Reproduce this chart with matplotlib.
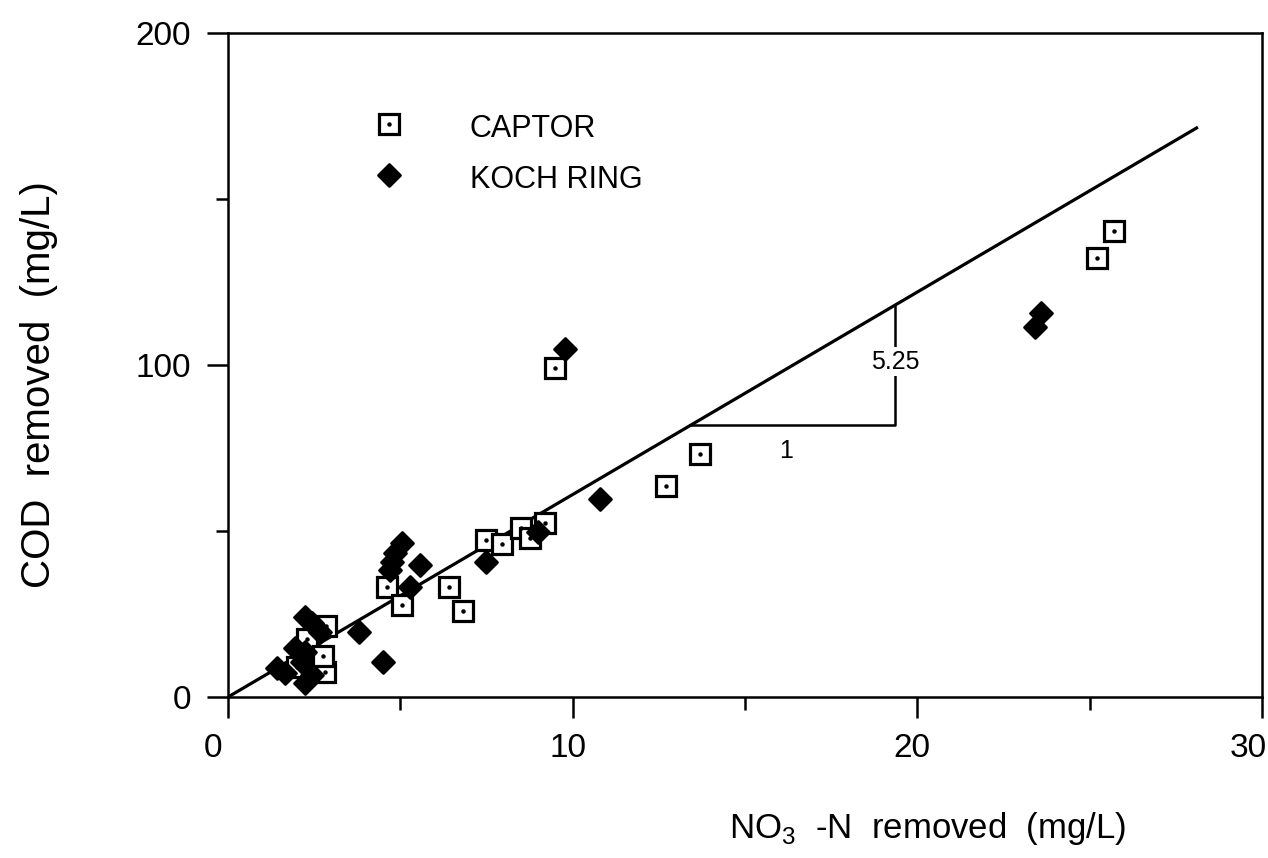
import numpy as np
import matplotlib
matplotlib.use("Agg")
import matplotlib.pyplot as plt
from matplotlib.ticker import MultipleLocator
from matplotlib.markers import MarkerStyle
from matplotlib.transforms import ScaledTranslation

plt.rcParams['font.family'] = ['Liberation Sans', 'DejaVu Sans']
plt.rcParams['mathtext.fontset'] = 'custom'
plt.rcParams['mathtext.rm'] = 'Liberation Sans'

# ---- data ----
captor_x = [25.7, 25.2, 9.49, 13.7, 12.7, 7.5, 7.94, 8.5, 8.76, 9.2,
            6.42, 6.81, 4.6, 5.04, 2.84, 2.81, 2.0, 2.3, 2.75]
captor_y = [140.4, 132.2, 99.1, 73.1, 63.6, 47.3, 46.0, 50.8, 48.0, 52.3,
            33.0, 25.9, 33.2, 27.7, 21.4, 7.5, 9.0, 17.5, 12.5]

koch_x = [23.6, 23.4, 9.78, 10.8, 9.0, 7.5, 5.04, 4.85, 4.75, 4.7,
          5.57, 5.28, 3.8, 4.49,
          2.23, 2.44, 2.67, 1.94, 2.23, 2.15, 1.42, 1.65, 2.23, 2.44]
koch_y = [115.7, 111.4, 104.8, 59.5, 49.7, 40.8, 46.3, 43.3, 40.8, 38.3,
          39.8, 33.2, 19.6, 10.6,
          24.0, 22.3, 19.6, 14.8, 13.6, 10.5, 8.7, 7.2, 4.2, 6.6]

# regression line as drawn and slope triangle
fit_x = [0.0, 28.1]
fit_y = [0.0, 171.4]
tri_x = [13.4, 19.35, 19.35]
tri_y = [81.9, 81.9, 118.1]
slope_label = "5.25"
run_label = "1"

legend_names = ["CAPTOR", "KOCH RING"]
xtick_vals = [0, 10, 20, 30]
xtick_labels = ["0", "10", "20", "30"]

# ---- figure ----
fig = plt.figure(figsize=(12.68, 8.58), dpi=100)
ax = fig.add_axes([0.1798, 0.1876, 0.8155, 0.7739])

ax.plot(fit_x, fit_y, color='black', lw=2.3, zorder=2)
ax.plot(tri_x, tri_y, color='black', lw=1.8, zorder=2)
ax.text(19.35, 101, slope_label, fontsize=18, ha='center', va='center',
        bbox=dict(facecolor='white', edgecolor='none', pad=2), zorder=3)
ax.text(16.2, 74, run_label, fontsize=18, ha='center', va='center')

diamond = MarkerStyle('D', joinstyle='round')
sq_style = dict(ls='none', marker='s', ms=14, mfc='white', mec='black', mew=2.3)
dm_style = dict(ls='none', marker=diamond, ms=11.5, mfc='black', mec='black', mew=2.0)

ax.plot(captor_x, captor_y, zorder=4, **sq_style)
ax.plot(captor_x, captor_y, ls='none', marker='o', ms=2.2, color='black', zorder=4)
ax.plot(koch_x, koch_y, zorder=5, **dm_style)

# hand-placed legend like the original
ax.plot([4.67], [172.6], zorder=4, **sq_style)
ax.plot([4.67], [172.6], ls='none', marker='o', ms=2.2, color='black', zorder=4)
ax.plot([4.67], [157.2], zorder=5, **dm_style)
ax.text(7.02, 171.2, legend_names[0], fontsize=22, va='center', ha='left')
ax.text(7.02, 155.7, legend_names[1], fontsize=22, va='center', ha='left')

ax.set_xlim(0, 30)
ax.set_ylim(0, 200)
ax.set_xticks(xtick_vals)
ax.xaxis.set_minor_locator(MultipleLocator(5))
ax.yaxis.set_major_locator(MultipleLocator(100))
ax.yaxis.set_minor_locator(MultipleLocator(50))

ax.tick_params(which='major', direction='out', length=15, width=1.8,
               labelsize=24, pad=11.5)
ax.tick_params(which='minor', direction='out', length=9, width=1.8)
ax.tick_params(axis='x', labelbottom=False)
for sp in ax.spines.values():
    sp.set_linewidth(1.8)

# x tick labels sit a little left of their ticks in the original
shifts = [-15, -5, -5, -14]
for v, s, dx in zip(xtick_vals, xtick_labels, shifts):
    tr = ax.get_xaxis_transform() + ScaledTranslation(dx / 100, -51 / 100, fig.dpi_scale_trans)
    ax.text(v, 0, s, transform=tr, fontsize=24, ha='center', va='center', clip_on=False)

ax.set_ylabel("COD  removed  (mg/L)", fontsize=29, labelpad=56)
ax.yaxis.label.set_y(0.47)
ax.set_xlabel(r"NO$_{\mathrm{3}}$  -N  removed  (mg/L)", fontsize=25, labelpad=0)
ax.xaxis.set_label_coords(0.677, -0.17)

fig.savefig("out.png", dpi=100)
